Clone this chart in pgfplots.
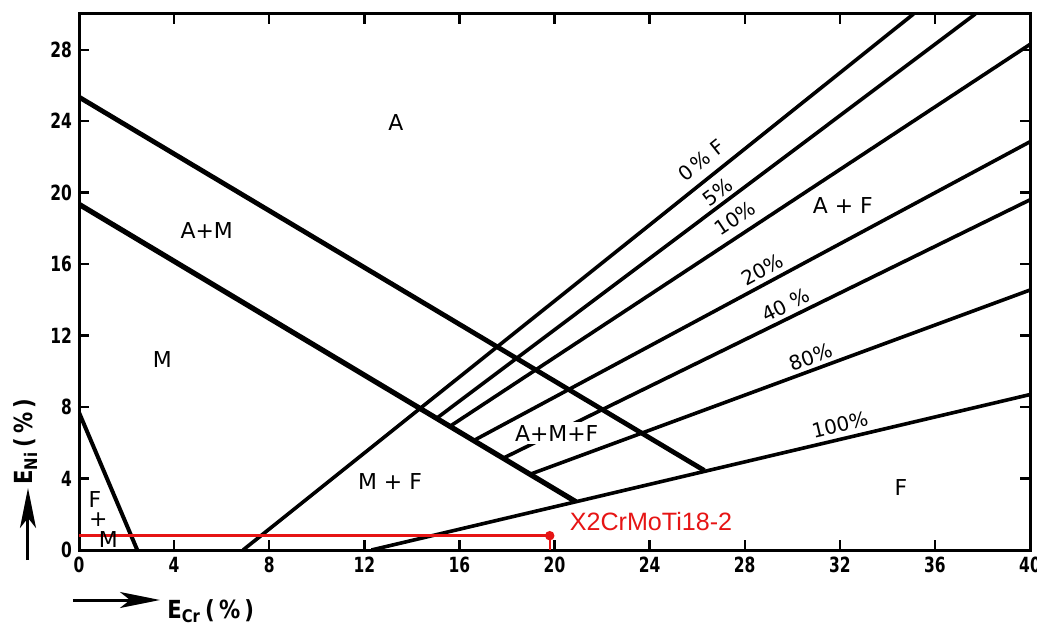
\documentclass[border=0pt]{standalone}
\usepackage{fontspec}
\setmainfont{DejaVu Sans}
\newfontfamily\tickfont{DejaVu Sans}[FakeStretch=0.74]
\newfontfamily\labfont{DejaVu Sans}[FakeStretch=0.85]
\newfontfamily\arialfont{Liberation Sans}
\usepackage{pgfplots}
\pgfplotsset{compat=1.18}
\usetikzlibrary{arrows.meta}
\definecolor{redline}{RGB}{230,20,20}
\begin{document}
\begin{tikzpicture}
\useasboundingbox (-39.5bp,-39bp) rectangle (479bp,275bp);
\begin{axis}[
  at={(0,0)}, anchor=south west,
  scale only axis, width=475.5bp, height=268bp,
  xmin=0, xmax=40, ymin=0, ymax=30,
  xtick={0,4,...,40}, ytick={0,4,...,28},
  tick align=inside, major tick length=5bp,
  axis line style={line width=1.5bp},
  every tick/.style={line width=1.2bp, black},
  tick label style={font=\tickfont\bfseries\fontsize{10.5}{12}\selectfont},
  /pgf/number format/assume math mode=true,
  cycle list={{black,solid,mark=none}},
  every axis plot/.append style={black, solid, mark=none, line width=1.8bp},
]
% phase boundaries
\addplot[black, line width=2.4bp] coordinates {(0,25.35) (26.3,4.45)};
\addplot[black, line width=2.6bp] coordinates {(0,19.35) (20.9,2.7)};
\addplot[black, line width=2.0bp] coordinates {(0,7.7) (2.45,0)};
% ferrite iso-lines
\addplot[black] coordinates {(6.9,0) (35.1,30)};        % 0 % F
\addplot[black] coordinates {(15.04,7.37) (37.7,30)};   % 5 %
\addplot[black] coordinates {(15.6,6.92) (40,28.3)};    % 10 %
\addplot[black] coordinates {(16.6,6.125) (40,22.85)};  % 20 %
\addplot[black] coordinates {(17.84,5.137) (40,19.6)};  % 40 %
\addplot[black] coordinates {(18.97,4.237) (40,14.55)}; % 80 %
\addplot[black] coordinates {(12.3,0) (40,8.7)};        % 100 %
% red marker line
\addplot[redline, line width=1.5bp] coordinates {(0,0.8) (19.8,0.8)};
\addplot[redline, line width=1.1bp] coordinates {(19.8,0.8) (19.8,0)};
\addplot[redline, only marks, mark=*, mark size=1.4bp] coordinates {(19.8,0.8)};
% region labels
\begin{scope}[every node/.style={font=\fontsize{11}{13}\selectfont}]
\node at (axis cs:13.33,23.9) {A};
\node at (axis cs:5.37,17.89) {A+M};
\node at (axis cs:3.51,10.68) {M};
\node at (axis cs:0.67,2.8) {F};
\node at (axis cs:0.81,1.68) {+};
\node at (axis cs:1.23,0.56) {M};
\node at (axis cs:13.08,3.86) {M + F};
\node[fill=white, inner sep=1.5bp] at (axis cs:20.09,6.53) {A+M+F};
\node at (axis cs:32.13,19.3) {A + F};
\node at (axis cs:34.57,3.47) {F};
\end{scope}
\begin{scope}[every node/.style={font=\fontsize{10}{12}\selectfont}]
\node[rotate=38.6] at (axis cs:26.18,21.8) {0\,\% F};
\node[rotate=36.9] at (axis cs:26.85,20.05) {5\%};
\node[rotate=33.4] at (axis cs:27.59,18.56) {10\%};
\node[rotate=28.2] at (axis cs:28.74,15.67) {20\%};
\node[rotate=26.1] at (axis cs:29.72,13.7) {40 \%};
\node[rotate=20.2] at (axis cs:30.77,10.8) {80\%};
\node[rotate=13.3] at (axis cs:32.0,7.0) {100\%};
\end{scope}
\node[anchor=west, text=redline, font=\arialfont\fontsize{12.6}{14}\selectfont] at (axis cs:20.35,1.57) {X2CrMoTi18-2};
\end{axis}
% axis labels with arrows
\draw[line width=1.5bp, -{Stealth[length=20bp,width=8bp,inset=5bp]}] (-3bp,-25bp) -- (40.5bp,-25bp);
\node[anchor=base west, inner sep=0pt, font=\labfont\bfseries\fontsize{12.5}{14}\selectfont] at (44bp,-34bp) {E\textsubscript{Cr}\,(\,\%\,)};
\draw[line width=1.5bp, -{Stealth[length=20bp,width=8bp,inset=5bp]}] (-25.5bp,-5bp) -- (-25.5bp,31bp);
\node[rotate=90, anchor=base west, inner sep=0pt, font=\labfont\bfseries\fontsize{12.5}{14}\selectfont] at (-23.5bp,32.5bp) {E\textsubscript{Ni}\,(\,\%\,)};
\end{tikzpicture}
\end{document}
